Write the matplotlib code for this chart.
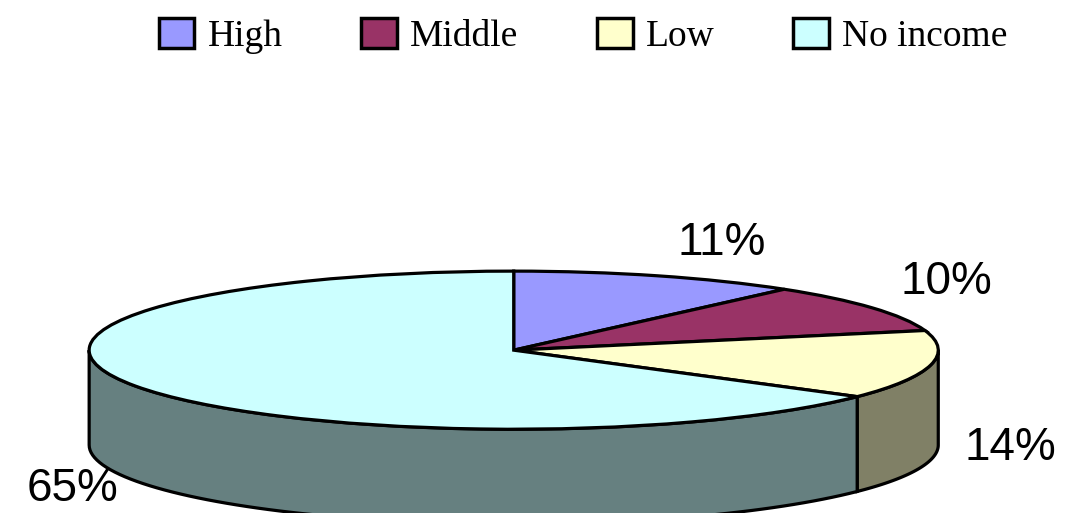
import numpy as np
import matplotlib.pyplot as plt
from matplotlib.patches import Polygon, Patch

# data
categories = ['High', 'Middle', 'Low', 'No income']
shares = [11, 10, 14, 65]

top_colors = ['#9999FF', '#993366', '#FFFFCC', '#CCFFFF']
side_colors = ['#4D4D80', '#4D1A33', '#808066', '#668080']

depth = 1.2  # thickness of the disc, in units of the vertical radius
label_xy = [(0.49, 1.36), (1.02, 0.86), (1.17, -1.24), (-1.04, -1.76)]


def front_ranges(t1, t2):
    # parts of [t1, t2] (degrees) that lie on the front half of the disc
    out = []
    for k in (-720, -360, 0, 360):
        a, b = max(t1, -180 + k), min(t2, 0 + k)
        if b > a:
            out.append((a, b))
    return out


fig = plt.figure(figsize=(10.72, 5.13), dpi=100)
ax = fig.add_axes([0, 0, 1, 1])

wedges, _ = ax.pie(shares, colors=top_colors, startangle=90, counterclock=False,
                   wedgeprops=dict(edgecolor='black', linewidth=2.3, zorder=2))

# side wall of the 3D disc
for w, c in zip(wedges, side_colors):
    for a, b in front_ranges(w.theta1, w.theta2):
        t = np.radians(np.linspace(a, b, 80))
        top = np.column_stack([np.cos(t), np.sin(t)])
        bot = np.column_stack([np.cos(t[::-1]), np.sin(t[::-1]) - depth])
        ax.add_patch(Polygon(np.vstack([top, bot]), closed=True, facecolor=c,
                             edgecolor='black', linewidth=2.3, zorder=1))

ax.set_aspect('auto')
ax.set_xlim(-1.21, 1.315)
ax.set_ylim(-2.06, 4.43)
ax.axis('off')

for (x, y), v in zip(label_xy, shares):
    ax.text(x, y, f'{v}%', ha='center', va='center', fontsize=33,
            family='Liberation Sans', color='black')

handles = [Patch(facecolor=c, edgecolor='black', linewidth=2.5) for c in top_colors]
fig.legend(handles, categories, loc='upper center', bbox_to_anchor=(0.544, 1.03),
           ncol=4, frameon=False, prop={'family': 'Liberation Serif', 'size': 27},
           handlelength=0.95, handleheight=0.85, handletextpad=0.35, columnspacing=2.1)

fig.savefig('out.png', dpi=100)
